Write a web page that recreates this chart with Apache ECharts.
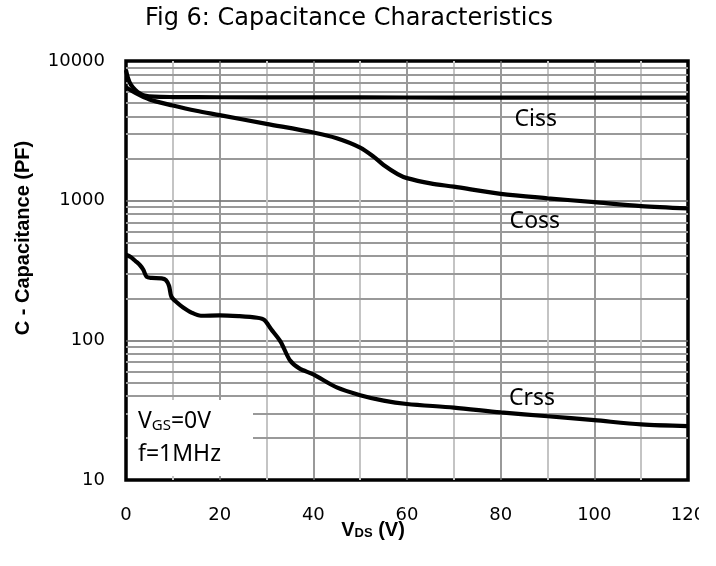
<!DOCTYPE html>
<html>
<head>
<meta charset="utf-8">
<script src="https://cdn.jsdelivr.net/npm/echarts@6/dist/echarts.min.js"></script>
<style>
html,body{margin:0;padding:0;background:#fff;}
#chart{width:699px;height:566px;overflow:hidden;}
</style>
</head>
<body>
<div id="chart"></div>
<script>
// ---- data ----
const titleText = 'Fig 6: Capacitance Characteristics';
const cissX = [0, 0.4, 1, 2, 3, 4, 6, 10, 20, 40, 60, 80, 100, 120];
const cissY = [8600, 7600, 6800, 6200, 5850, 5650, 5550, 5520, 5500, 5490, 5480, 5470, 5470, 5470];
const cossX = [0, 2, 5, 10, 15, 20, 30, 40, 45, 50, 53, 55, 58, 60, 65, 70, 80, 90, 100, 110, 120];
const cossY = [6500, 5900, 5300, 4800, 4400, 4100, 3550, 3080, 2800, 2400, 2050, 1800, 1550, 1450, 1330, 1260, 1120, 1040, 975, 915, 880];
const crssX = [0, 1, 2, 3, 3.7, 4.4, 5.5, 7.6, 8.5, 9.2, 9.7, 11, 12.2, 14, 16, 20, 24, 28, 29.5, 31, 33, 35, 37, 40, 45, 50, 55, 60, 70, 80, 90, 100, 110, 120];
const crssY = [410, 395, 370, 345, 320, 285, 280, 278, 270, 245, 205, 185, 172, 158, 150, 151, 149, 145, 140, 120, 98, 72, 63, 57, 46, 40.5, 37, 35, 33, 30.5, 28.6, 26.8, 25, 24.3];
const xTicks = [0, 20, 40, 60, 80, 100, 120];
const yDecades = [10, 100, 1000, 10000];
const yMinorLines = [20,30,40,50,60,70,80,90,200,300,400,500,600,700,800,900,2000,3000,4000,5000,6000,7000,8000,9000];
const curveLabels = [
  {name:'Ciss', x:87.5, y:3840},
  {name:'Coss', x:87.3, y:715},
  {name:'Crss', x:86.7, y:38.6}
];

const zip = (xs, ys) => xs.map((x, i) => [x, ys[i]]);

const chart = echarts.init(document.getElementById('chart'), null, {renderer:'canvas'});
const curveStyle = {color:'#000', width:4.2};

const option = {
  animation:false,
  backgroundColor:'#fff',
  grid:{left:126, right:11, top:61, bottom:86, show:true, borderColor:'#000', borderWidth:3.5,
        backgroundColor:'transparent', containLabel:false, outerBoundsMode:'none'},
  xAxis:{
    type:'value', min:0, max:120, interval:20,
    axisLine:{show:false}, axisTick:{show:false},
    axisLabel:{fontFamily:'DejaVu Sans', fontSize:18, color:'#000', margin:26,
      formatter:v => xTicks.includes(v) ? String(v) : ''},
    splitLine:{show:true, showMinLine:false, showMaxLine:false, lineStyle:{color:'#777', width:1.5}},
    minorTick:{show:false, splitNumber:2},
    minorSplitLine:{show:true, lineStyle:{color:'#c4c4c4', width:2}}
  },
  yAxis:{
    type:'log', logBase:10, min:10, max:10000,
    axisLine:{show:false}, axisTick:{show:false},
    axisLabel:{fontFamily:'DejaVu Sans', fontSize:18, color:'#000', margin:21,
      formatter:v => yDecades.includes(Math.round(v)) ? String(Math.round(v)) : ''},
    splitLine:{show:true, showMinLine:false, showMaxLine:false, lineStyle:{color:'#666', width:1.5}}
  },
  graphic:[
    {type:'text', z:101, x:349, y:19, style:{text:titleText, font:'24px "DejaVu Sans"', fill:'#000', align:'center', verticalAlign:'middle'}},
    {type:'rect', z:100, shape:{x:128, y:400, width:125, height:76}, style:{fill:'#fff'}},
    {type:'text', z:101, x:138, y:410, style:{
      text:'{v|V}{s|GS}{v|=0V}', rich:{
        v:{fontFamily:'Noto Sans', fontSize:23, fill:'#000', verticalAlign:'bottom'},
        s:{fontFamily:'Noto Sans', fontSize:15, fill:'#000', verticalAlign:'bottom'}
      }}},
    {type:'text', z:101, x:138, y:443, style:{text:'f=1MHz', font:'23px "Noto Sans"', fill:'#000'}},
    {type:'text', z:101, x:23, y:238, rotation:Math.PI/2, style:{
      text:'C - Capacitance (PF)', font:'bold 20px "Liberation Sans"', fill:'#000', align:'center', verticalAlign:'middle'}},
    {type:'text', z:101, x:373, y:530, style:{
      text:'{b|V}{s|DS}{b| (V)}', align:'center', verticalAlign:'middle', rich:{
        b:{fontFamily:'Liberation Sans', fontWeight:'bold', fontSize:20, fill:'#000', verticalAlign:'bottom'},
        s:{fontFamily:'Liberation Sans', fontWeight:'bold', fontSize:13, fill:'#000', verticalAlign:'bottom'}
      }}}
  ],
  series:[
    {type:'line', name:'grid', data:[], z:1, silent:true,
      markLine:{silent:true, symbol:'none', label:{show:false}, animation:false,
        lineStyle:{color:'#999', width:2, type:'solid'},
        data:yMinorLines.map(v => ({yAxis:v}))}},
    {type:'line', name:'Ciss', data:zip(cissX, cissY), showSymbol:false, smooth:0.3, lineStyle:curveStyle, z:5},
    {type:'line', name:'Coss', data:zip(cossX, cossY), showSymbol:false, smooth:0.3, lineStyle:curveStyle, z:5},
    {type:'line', name:'Crss', data:zip(crssX, crssY), showSymbol:false, smooth:0.3, lineStyle:curveStyle, z:5},
    {type:'scatter', name:'labels', z:6, silent:true, symbolSize:0,
      data:curveLabels.map(d => ({value:[d.x, d.y], name:d.name})),
      label:{show:true, position:'inside', formatter:p => p.name, fontFamily:'Noto Sans', fontSize:23,
        color:'#000', textBorderWidth:0, opacity:1}}
  ]
};
chart.setOption(option);
</script>
</body>
</html>
